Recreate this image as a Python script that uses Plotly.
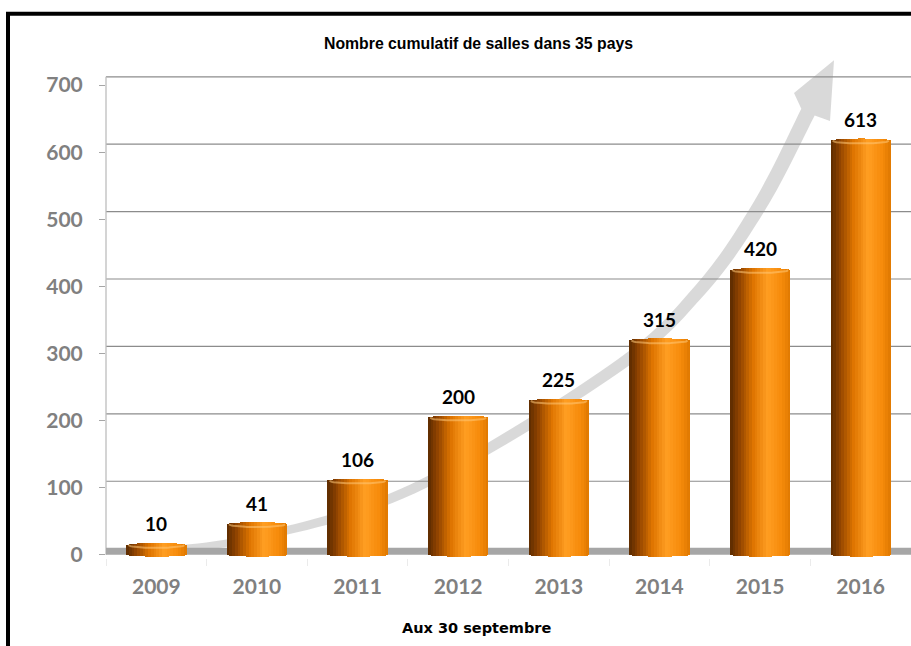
import math
import plotly.graph_objects as go

# ---------------- data ----------------
years = ["2009", "2010", "2011", "2012", "2013", "2014", "2015", "2016"]
salles = [10, 41, 106, 200, 225, 315, 420, 613]
y_ticks = [0, 100, 200, 300, 400, 500, 600, 700]
title_text = "<b>Nombre cumulatif de salles dans 35 pays</b>"
xaxis_text = "<b>Aux 30 septembre</b>"

# ---------------- geometry ----------------
W, H = 911, 646
L, R = 106, 0
Y0, Y1 = -5, 730
K = 470.0 / 700.0            # px per data unit
T = 85 - (Y1 - 700) * K
B = H - (555 + (0 - Y0) * K)
PW = W - L - R
PH = H - T - B


def px_x(p):
    return (p - L) / PW


def px_y(p):
    return (H - B - p) / PH


xs = list(range(len(years)))
BAR_W = 0.6
N_SLICES = 22
RY = 5.0 / K                 # cap half-height in data units
RB = 2.0 / K

stops = [(0.0, (90, 42, 0)), (0.14, (138, 64, 0)), (0.38, (222, 116, 0)),
         (0.62, (255, 158, 34)), (0.86, (246, 138, 10)), (1.0, (222, 120, 0))]


def grad(t):
    for (a, ca), (b, cb) in zip(stops[:-1], stops[1:]):
        if a <= t <= b:
            f = (t - a) / (b - a)
            c = [round(ca[i] + (cb[i] - ca[i]) * f) for i in range(3)]
            return "rgb(%d,%d,%d)" % tuple(c)
    return "rgb(%d,%d,%d)" % stops[-1][1]


fig = go.Figure()

# cylinder bars: vertical slices with a shaded gradient and rounded top
step = BAR_W / N_SLICES
for k in range(N_SLICES):
    off = -BAR_W / 2 + k * step
    wdt = min(step * 1.5, BAR_W / 2 - off)
    uc = (off + step / 2) / (BAR_W / 2)
    e = math.sqrt(max(0.0, 1 - uc * uc))
    tops = [v + RY * (0.55 + 0.45 * e) for v in salles]
    bases = [-RB * e for _ in salles]
    fig.add_trace(go.Bar(
        x=xs, y=[t - b for t, b in zip(tops, bases)], base=bases,
        offset=off, width=wdt,
        marker=dict(color=grad((k + 0.5) / N_SLICES), line=dict(width=0)),
        hoverinfo="skip", showlegend=False))

# top rim highlight
for i, v in enumerate(salles):
    us = [j / 20 - 1 for j in range(41)]
    fig.add_trace(go.Scatter(
        x=[i + u * BAR_W / 2 * 0.93 for u in us],
        y=[v + RY * 0.55 - RY * 0.9 * math.sqrt(max(0, 1 - u * u)) * 0.6 for u in us],
        mode="lines", line=dict(color="rgba(255,200,120,0.55)", width=2),
        hoverinfo="skip", showlegend=False))

# value labels
annotations = []
for i, v in enumerate(salles):
    annotations.append(dict(
        x=i, y=v, xref="x", yref="y", text="<b>%d</b>" % v, showarrow=False,
        yanchor="middle", yshift=24,
        font=dict(family="Lato, Carlito, sans-serif", size=19, color="black")))

annotations.append(dict(x=px_x(478), y=px_y(43), xref="paper", yref="paper",
                        text=title_text, showarrow=False, xanchor="center", yanchor="middle",
                        font=dict(family="Liberation Sans, Arial, sans-serif", size=15.8, color="black")))
annotations.append(dict(x=px_x(476), y=px_y(628), xref="paper", yref="paper",
                        text=xaxis_text, showarrow=False, xanchor="center", yanchor="middle",
                        font=dict(family="DejaVu Sans, Verdana, sans-serif", size=14.5, color="black")))

# ---------------- decorative arrow ----------------
ctrl = [(135, 552), (250, 539), (413, 489), (613, 370), (700, 290), (760, 205), (808, 112)]


def catmull(pts, n=16):
    out = []
    P = [pts[0]] + pts + [pts[-1]]
    for i in range(1, len(P) - 2):
        p0, p1, p2, p3 = P[i - 1], P[i], P[i + 1], P[i + 2]
        for s in range(n):
            t = s / n
            t2, t3 = t * t, t * t * t
            out.append(tuple(0.5 * ((2 * p1[j]) + (-p0[j] + p2[j]) * t +
                                    (2 * p0[j] - 5 * p1[j] + 4 * p2[j] - p3[j]) * t2 +
                                    (-p0[j] + 3 * p1[j] - 3 * p2[j] + p3[j]) * t3) for j in range(2)))
    out.append(pts[-1])
    return out


cl = catmull(ctrl)
left_side, right_side = [], []
n = len(cl)
for i, (x, y) in enumerate(cl):
    a = cl[max(i - 1, 0)]
    b = cl[min(i + 1, n - 1)]
    dx, dy = b[0] - a[0], b[1] - a[1]
    d = math.hypot(dx, dy) or 1
    nx, ny = -dy / d, dx / d
    hw = 1.5 + 6.0 * (i / (n - 1)) ** 0.5
    left_side.append((x - nx * hw, y - ny * hw))
    right_side.append((x + nx * hw, y + ny * hw))

poly = left_side + [(794, 93), (834, 60), (830, 121)] + right_side[::-1]
path = "M " + " L ".join("%.5f,%.5f" % (px_x(x), px_y(y)) for x, y in poly) + " Z"

shapes = []
shapes.append(dict(type="path", path=path, xref="paper", yref="paper",
                   fillcolor="rgba(208,208,208,0.8)", line=dict(width=0), layer="below"))

# offset grid lines (3-D look of the original)
for t in y_ticks[1:]:
    yy = t + (6 + t / 300.0) / K
    shapes.append(dict(type="line", xref="paper", yref="y", x0=0, x1=1, y0=yy, y1=yy,
                       line=dict(color="#8c8c8c", width=1.2), layer="below"))
# vertical axis line
shapes.append(dict(type="line", xref="paper", yref="y", x0=0, x1=0,
                   y0=0, y1=700 + (6 + 700 / 300.0) / K,
                   line=dict(color="#bdbdbd", width=1.3), layer="below"))
# floor
shapes.append(dict(type="rect", xref="paper", yref="y", x0=0, x1=1, y0=0, y1=7 / K,
                   fillcolor="#a6a6a6", line=dict(width=0), layer="below"))
# outer black frame
shapes.append(dict(type="rect", xref="paper", yref="paper",
                   x0=px_x(8), x1=px_x(930), y0=px_y(670), y1=px_y(13.5),
                   line=dict(color="black", width=4), fillcolor="rgba(0,0,0,0)", layer="above"))

fig.update_layout(
    width=W, height=H,
    margin=dict(l=L, r=R, t=T, b=B, pad=0),
    paper_bgcolor="white", plot_bgcolor="white",
    barmode="overlay", bargap=0,
    showlegend=False,
    shapes=shapes, annotations=annotations,
    xaxis=dict(range=[-0.5, 7.5], tickmode="array", tickvals=xs, ticktext=years,
               showgrid=False, zeroline=False, showline=False, ticks="",
               ticklabelstandoff=14, automargin=False,
               tickfont=dict(family="Lato, Carlito, sans-serif", size=21, color="#808080"),
               minor=dict(tickmode="linear", tick0=0.5, dtick=1, ticks="outside",
                          ticklen=7, tickcolor="#ebebeb", showgrid=False)),
    yaxis=dict(range=[Y0, Y1], tickmode="array", tickvals=y_ticks,
               showgrid=False, zeroline=False, showline=False,
               ticks="outside", ticklen=6, tickcolor="#a6a6a6", tickwidth=1.2,
               ticklabelstandoff=12, automargin=False,
               tickfont=dict(family="Lato, Carlito, sans-serif", size=21, color="#808080")),
)
fig.update_xaxes(tickfont_weight="bold")
fig.update_yaxes(tickfont_weight="bold")

fig.write_html("out.html", config={"displayModeBar": False},
               post_script="document.body.style.margin='0';")
